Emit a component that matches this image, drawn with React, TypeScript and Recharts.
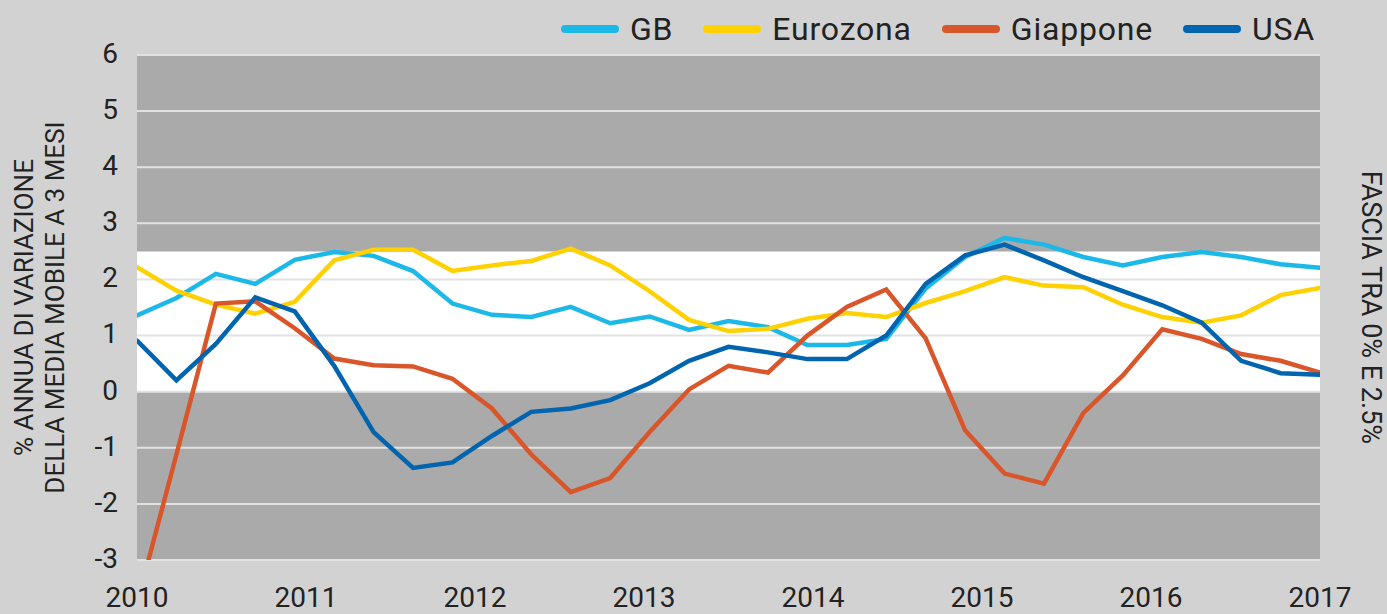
import {
  Legend,
  Line,
  LineChart,
  ReferenceArea,
  ReferenceLine,
  XAxis,
  YAxis,
} from "recharts";

// years on the x axis, one observation every 7/30 of a year
const years = [2010, 2011, 2012, 2013, 2014, 2015, 2016, 2017];
const yTicks = [-3, -2, -1, 0, 1, 2, 3, 4, 5, 6];
const STEP = 7 / 30;

const gb = [
  1.36, 1.67, 2.1, 1.92, 2.35, 2.49, 2.42, 2.15, 1.57, 1.37, 1.33, 1.51, 1.22,
  1.34, 1.1, 1.26, 1.15, 0.83, 0.83, 0.94, 1.84, 2.4, 2.74, 2.62, 2.4, 2.25,
  2.4, 2.49, 2.4, 2.27, 2.21,
];
const eurozona = [
  2.22, 1.8, 1.55, 1.39, 1.6, 2.34, 2.53, 2.53, 2.15, 2.25, 2.33, 2.55, 2.25,
  1.79, 1.28, 1.08, 1.12, 1.3, 1.4, 1.33, 1.58, 1.79, 2.04, 1.89, 1.86, 1.55,
  1.33, 1.23, 1.36, 1.72, 1.85,
];
// Japan starts a little after the others
const giapponeStart = { t: 2010.068, value: -3.0 };
const giappone = [
  null, -1.12, 1.57, 1.61, 1.13, 0.59, 0.47, 0.45, 0.23, -0.3, -1.12, -1.79,
  -1.54, -0.72, 0.04, 0.46, 0.34, 1.0, 1.51, 1.82, 0.95, -0.69, -1.46, -1.64,
  -0.38, 0.29, 1.11, 0.94, 0.67, 0.55, 0.34,
];
const usa = [
  0.91, 0.2, 0.85, 1.68, 1.43, 0.46, -0.72, -1.36, -1.26, -0.79, -0.36, -0.3,
  -0.15, 0.15, 0.55, 0.8, 0.7, 0.58, 0.58, 1.0, 1.92, 2.43, 2.62, 2.34, 2.04,
  1.79, 1.54, 1.23, 0.55, 0.33, 0.3,
];

const series = [
  { key: "gb", name: "GB", color: "#1cb8e8" },
  { key: "eurozona", name: "Eurozona", color: "#ffd100" },
  { key: "giappone", name: "Giappone", color: "#d9552a" },
  { key: "usa", name: "USA", color: "#0064ae" },
];

const rows: any[] = gb.map((v, i) => ({
  t: 2010 + i * STEP,
  gb: v,
  eurozona: eurozona[i],
  giappone: giappone[i],
  usa: usa[i],
}));
rows.splice(1, 0, { t: giapponeStart.t, giappone: giapponeStart.value });

const FONT = "Roboto, 'DejaVu Sans', sans-serif";
const TEXT = "#222222";

function LegendRow() {
  return (
    <div
      style={{
        display: "flex",
        alignItems: "center",
        fontFamily: FONT,
        fontSize: 32,
        letterSpacing: 0.8,
        color: TEXT,
        whiteSpace: "nowrap",
      }}
    >
      {series.map((s) => (
        <div
          key={s.key}
          style={{ display: "flex", alignItems: "center", marginRight: 30 }}
        >
          <span
            style={{
              display: "inline-block",
              width: 58,
              height: 8,
              borderRadius: 4,
              background: s.color,
              marginRight: 11,
            }}
          />
          <span>{s.name}</span>
        </div>
      ))}
    </div>
  );
}

function LeftTitle(props: any) {
  const vb = props.viewBox || { x: 0, y: 55, width: 137, height: 505 };
  const cy = vb.y + vb.height / 2;
  return (
    <g fontFamily={FONT} fontSize={26} fill={TEXT}>
      <text x={33} y={cy} textAnchor="middle" transform={`rotate(-90 33 ${cy})`}>
        % ANNUA DI VARIAZIONE
      </text>
      <text x={64} y={cy} textAnchor="middle" transform={`rotate(-90 64 ${cy})`}>
        DELLA MEDIA MOBILE A 3 MESI
      </text>
    </g>
  );
}

function RightTitle(props: any) {
  const vb = props.viewBox || { x: 1320, y: 55, width: 67, height: 505 };
  const cy = vb.y + vb.height / 2;
  const x = vb.x + 42;
  return (
    <text
      x={x}
      y={cy}
      textAnchor="middle"
      fontFamily={FONT}
      fontSize={27}
      fill={TEXT}
      transform={`rotate(90 ${x} ${cy})`}
    >
      FASCIA TRA 0% E 2.5%
    </text>
  );
}

export default function App() {
  const tick = { fontSize: 28, fill: TEXT, fontFamily: FONT };
  return (
    <div
      style={{
        position: "fixed",
        left: 0,
        top: 0,
        width: 1387,
        height: 614,
        background: "#d2d2d2",
      }}
    >
      <LineChart
        width={1387}
        height={614}
        data={rows}
        margin={{ top: 55, right: 0, bottom: 0, left: 0 }}
      >
        <XAxis
          type="number"
          dataKey="t"
          domain={[2010, 2017]}
          ticks={years}
          interval={0}
          allowDataOverflow
          axisLine={false}
          tickLine={false}
          tickSize={0}
          tickMargin={27}
          height={54}
          tick={tick}
        />
        <YAxis
          type="number"
          domain={[-3, 6]}
          ticks={yTicks}
          interval={0}
          allowDataOverflow
          axisLine={false}
          tickLine={false}
          tickSize={0}
          tickMargin={19}
          width={137}
          tick={{ ...tick, dy: -2 }}
          label={<LeftTitle />}
        />
        <YAxis
          yAxisId="right"
          orientation="right"
          width={67}
          axisLine={false}
          tickLine={false}
          tick={false}
          label={<RightTitle />}
        />
        <ReferenceArea
          y1={-3}
          y2={6}
          fill="#aaaaaa"
          fillOpacity={1}
          stroke="none"
        />
        <ReferenceArea
          y1={0}
          y2={2.5}
          fill="#ffffff"
          fillOpacity={1}
          stroke="none"
        />
        {yTicks.map((v) => (
          <ReferenceLine key={v} y={v} stroke="#e2e2e2" strokeWidth={2} />
        ))}
        <Legend
          layout="vertical"
          align="center"
          verticalAlign="middle"
          wrapperStyle={{ left: 561, top: 10, width: "auto" }}
          content={<LegendRow />}
        />
        {series.map((s) => (
          <Line
            key={s.key}
            type="linear"
            dataKey={s.key}
            name={s.name}
            stroke={s.color}
            strokeWidth={4.5}
            strokeLinecap="round"
            dot={false}
            connectNulls
            isAnimationActive={false}
          />
        ))}
      </LineChart>
    </div>
  );
}
